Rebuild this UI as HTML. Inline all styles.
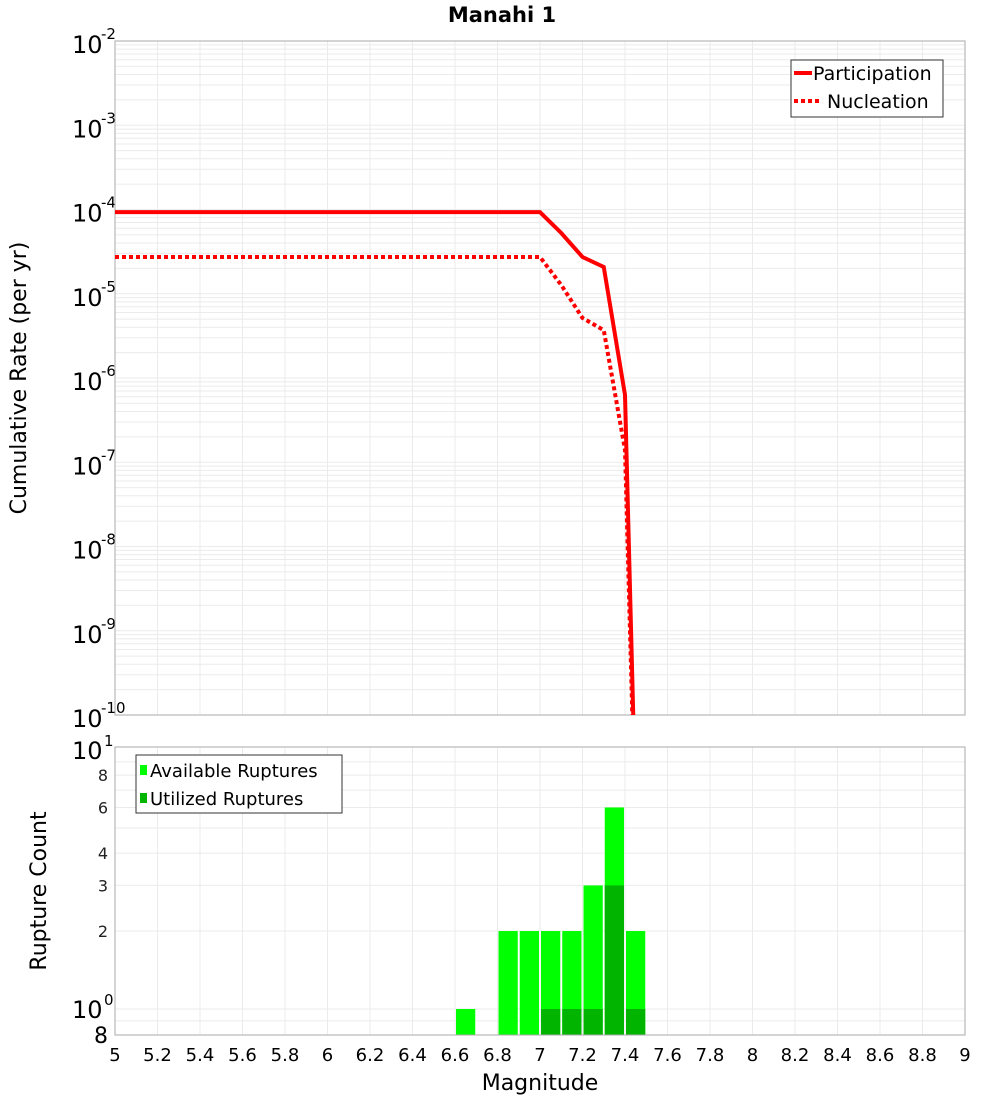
<!DOCTYPE html>
<html><head><meta charset="utf-8"><style>
body{margin:0;background:#fff;font-family:"Liberation Sans","DejaVu Sans",sans-serif}
svg text{font-family:"DejaVu Sans","Liberation Sans",sans-serif}
</style></head><body>
<svg id="c" width="1000" height="1100" xmlns="http://www.w3.org/2000/svg">
<text x="502" y="22" font-size="21" font-weight="bold" text-anchor="middle">Manahi 1</text>
<g id="top"></g>
<g id="bot"></g>
<text transform="translate(26,378) rotate(-90)" font-size="22" text-anchor="middle">Cumulative Rate (per yr)</text>
<text transform="translate(46,891) rotate(-90)" font-size="22" text-anchor="middle">Rupture Count</text>
<text x="540" y="1090" font-size="22" text-anchor="middle">Magnitude</text>
</svg>
<script>
const mags=[5.0,6.9,7.0,7.1,7.2,7.3,7.4,7.5];
const participation=[9.3e-5,9.3e-5,9.3e-5,5.26e-5,2.73e-5,2.08e-5,6.3e-7,1e-16];
const nucleation=[2.73e-5,2.73e-5,2.73e-5,1.27e-5,5.15e-6,3.7e-6,1.4e-7,1e-16];
const binCenters=[6.65,6.85,6.95,7.05,7.15,7.25,7.35,7.45];
const available=[1,2,2,2,2,3,6,2];
const utilized=[0,0,0,1,1,1,3,1];
const xTicks=[5,5.2,5.4,5.6,5.8,6,6.2,6.4,6.6,6.8,7,7.2,7.4,7.6,7.8,8,8.2,8.4,8.6,8.8,9];
const rateDecades=[-10,-9,-8,-7,-6,-5,-4,-3,-2];
const countTicks=[2,3,4,6,8];

const NS="http://www.w3.org/2000/svg";
function mk(p,t,a){const e=document.createElementNS(NS,t);for(const k in a)e.setAttribute(k,a[k]);p.appendChild(e);return e;}
const L=115,R=965,T1=41,B1=715,T2=747,B2=1035;
const X=m=>L+(m-5)/4*(R-L);
const Y1=v=>T1+(-2-Math.log10(v))*(B1-T1)/8;
const Y2=v=>1009-Math.log10(v)*259;
const gTop=document.getElementById('top'),gBot=document.getElementById('bot');
for(let d=-10;d<-2;d++)for(let k=1;k<10;k++){const y=Y1(k*Math.pow(10,d));
 const g=mk(gTop,'line',{x1:L,x2:R,y1:y,y2:y,stroke:'#ebebeb','stroke-width':1});
 
 }
xTicks.forEach(m=>{[[gTop,T1,B1],[gBot,T2,B2]].forEach(([g,a,b])=>{
 const l=mk(g,'line',{x1:X(m),x2:X(m),y1:a,y2:b,stroke:'#ebebeb'});
 
 });});
rateDecades.forEach(d=>{const y=Y1(Math.pow(10,d));
 const t=mk(gTop,'text',{x:72,y:y+12,'font-size':24});t.textContent='10';
 
 
 const s=mk(gTop,'text',{x:101,y:y-2,'font-size':15});s.textContent=String(d);
 
 });
const f1=mk(gTop,'rect',{x:L,y:T1,width:R-L,height:B1-T1,fill:'none',stroke:'#aaa'});


const cp=mk(gTop,'clipPath',{id:'cp'});mk(cp,'rect',{x:L,y:T1,width:R-L,height:B1-T1});
function line(vals,dash,name){const p=mk(gTop,'polyline',{points:mags.map((m,i)=>X(m)+','+Y1(vals[i])).join(' '),fill:'none',stroke:'#f00','stroke-width':4,'clip-path':'url(#cp)'});
 if(dash)p.setAttribute('stroke-dasharray','4,3');
 
 }
line(participation,false,'participation-line');line(nucleation,true,'nucleation-line');
const lg=mk(gTop,'g',{});


mk(lg,'rect',{x:791,y:60,width:152,height:57,fill:'#fff',stroke:'#333'});
mk(lg,'line',{x1:794,x2:812,y1:73,y2:73,stroke:'#f00','stroke-width':4});
mk(lg,'line',{x1:794,x2:822,y1:101,y2:101,stroke:'#f00','stroke-width':4,'stroke-dasharray':'4,3'});
let t=mk(lg,'text',{x:813,y:80,'font-size':19});t.textContent='Participation';
t=mk(lg,'text',{x:827,y:108,'font-size':19});t.textContent='Nucleation';
[0.9,1,2,3,4,5,6,7,8,9].forEach(v=>{const y=Y2(v);const l=mk(gBot,'line',{x1:L,x2:R,y1:y,y2:y,stroke:'#ebebeb'});
 
 });
countTicks.forEach(v=>{const s=mk(gBot,'text',{x:108,y:Y2(v)+6,'font-size':16,'text-anchor':'end',fill:'#222'});s.textContent=v;
 
 });
[[10,'1'],[1,'0']].forEach(([v,e])=>{const y=Y2(v);const s=mk(gBot,'text',{x:72,y:y+9,'font-size':24});s.textContent='10';
 
 
 const q=mk(gBot,'text',{x:104,y:y-4,'font-size':15});q.textContent=e;
 
 });
t=mk(gBot,'text',{x:94,y:1043,'font-size':22});t.textContent='8';


const bw=(X(5.1)-X(5));
binCenters.forEach((c,i)=>{const x=X(c)-bw/2+1;
 const r=mk(gBot,'rect',{x:x,y:Y2(available[i]),width:bw-2,height:B2-Y2(available[i]),fill:'#00ff00'});
 
 
 if(utilized[i]>0){const u=mk(gBot,'rect',{x:x,y:Y2(utilized[i]),width:bw-2,height:B2-Y2(utilized[i]),fill:'#00b400'});
 
 }});
const f2=mk(gBot,'rect',{x:L,y:T2,width:R-L,height:B2-T2,fill:'none',stroke:'#aaa'});


xTicks.forEach(m=>{const s=mk(gBot,'text',{x:X(m),y:1061,'font-size':18,'text-anchor':'middle'});s.textContent=String(m);
 
 });
const lb=mk(gBot,'g',{});


mk(lb,'rect',{x:136,y:755,width:206,height:58,fill:'#fff',stroke:'#333'});
mk(lb,'rect',{x:140,y:765,width:7,height:10,fill:'#00ff00'});
mk(lb,'rect',{x:140,y:793,width:7,height:10,fill:'#00b400'});
t=mk(lb,'text',{x:150,y:777,'font-size':18});t.textContent='Available Ruptures';
t=mk(lb,'text',{x:150,y:805,'font-size':18});t.textContent='Utilized Ruptures';
</script>
</body></html>
